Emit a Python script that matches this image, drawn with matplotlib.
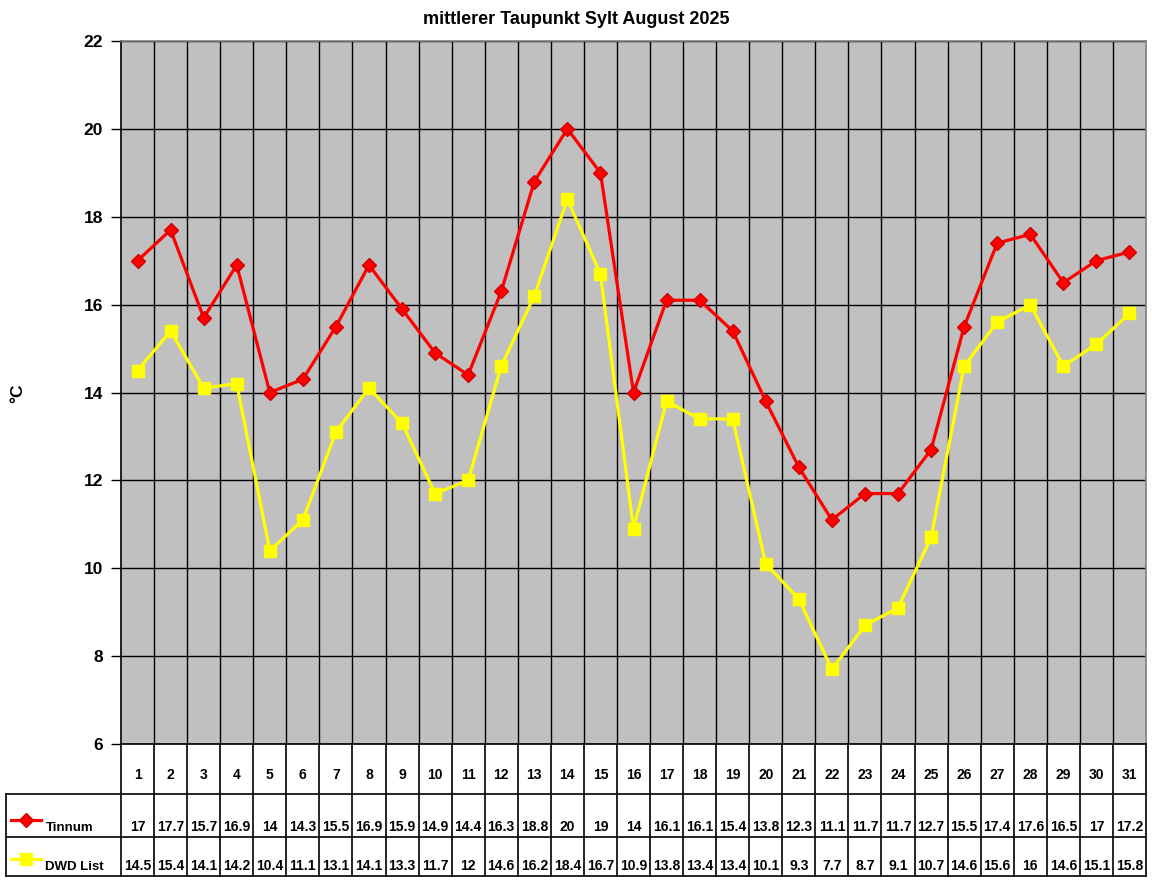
#!/usr/bin/env python3
import matplotlib
matplotlib.use("Agg")
import matplotlib.pyplot as plt
from matplotlib.lines import Line2D
from matplotlib.transforms import blended_transform_factory

days = list(range(1, 32))
tinnum = [17, 17.7, 15.7, 16.9, 14, 14.3, 15.5, 16.9, 15.9, 14.9, 14.4, 16.3, 18.8, 20, 19,
          14, 16.1, 16.1, 15.4, 13.8, 12.3, 11.1, 11.7, 11.7, 12.7, 15.5, 17.4, 17.6, 16.5, 17, 17.2]
dwd_list = [14.5, 15.4, 14.1, 14.2, 10.4, 11.1, 13.1, 14.1, 13.3, 11.7, 12, 14.6, 16.2, 18.4, 16.7,
            10.9, 13.8, 13.4, 13.4, 10.1, 9.3, 7.7, 8.7, 9.1, 10.7, 14.6, 15.6, 16, 14.6, 15.1, 15.8]
series_names = ["Tinnum", "DWD List"]
yticks = [6, 8, 10, 12, 14, 16, 18, 20, 22]

plt.rcParams['font.family'] = ['Liberation Sans', 'DejaVu Sans']
plt.rcParams['font.weight'] = 'bold'

W, H = 1152, 882
fig = plt.figure(figsize=(W / 100, H / 100), dpi=100)

def fx(px):
    return px / W

def fy(py):
    return 1 - py / H

left, right, top, bottom = 121, 1146, 41, 744
ax = fig.add_axes([fx(left), fy(bottom), fx(right - left), fy(top) - fy(bottom)])
ax.set_facecolor("#C0C0C0")
ax.set_xlim(0.5, 31.5)
ax.set_ylim(6, 22)

for y in yticks:
    ax.axhline(y, color="black", lw=1.0, zorder=1)
for k in range(1, 31):
    ax.axvline(k + 0.5, color="black", lw=1.0, zorder=1)

red_style = dict(color="#FF0000", lw=2.3, marker="D", markersize=7.5,
                 markerfacecolor="#FF0000", markeredgecolor="#D00000")
yel_style = dict(color="#FFFF00", lw=2.3, marker="s", markersize=9,
                 markerfacecolor="#FFFF00", markeredgecolor="#FFFF00")
ax.plot(days, tinnum, zorder=3, clip_on=False, **red_style)
ax.plot(days, dwd_list, zorder=3, clip_on=False, **yel_style)

ax.set_yticks(yticks)
ax.set_yticklabels([str(v) for v in yticks], fontsize=12.5, fontweight="bold")
ax.tick_params(axis="y", direction="out", length=7, width=1.0, pad=6)
ax.set_xticks([])
for s in ["top", "right"]:
    ax.spines[s].set_color("#808080")
ax.spines["left"].set_color("black")
ax.spines["bottom"].set_color("black")
for s in ax.spines.values():
    s.set_linewidth(1.2)

fig.text(fx(576), fy(20), "mittlerer Taupunkt Sylt August 2025", ha="center", va="center",
         fontsize=13, fontweight="bold")
fig.text(fx(18), fy(393), "°C", ha="center", va="center", rotation=90,
         fontsize=12.5, fontweight="bold")

# data table below the plot
tr = blended_transform_factory(ax.transData, fig.transFigure)
lk = dict(color="black", lw=1.2, clip_on=False)
for py in [794, 837, 876]:
    fig.add_artist(Line2D([fx(6), fx(right)], [fy(py), fy(py)], **lk))
fig.add_artist(Line2D([fx(6), fx(6)], [fy(794), fy(876)], **lk))
fig.add_artist(Line2D([fx(left), fx(left)], [fy(bottom), fy(876)], **lk))
fig.add_artist(Line2D([fx(right), fx(right)], [fy(bottom), fy(876)], **lk))
for k in range(1, 31):
    fig.add_artist(Line2D([k + 0.5, k + 0.5], [fy(bottom), fy(876)], transform=tr, **lk))

for d, a, b in zip(days, tinnum, dwd_list):
    fig.text(d, fy(775), str(d), transform=tr, ha="center", va="center",
             fontsize=10, fontweight="bold")
    fig.text(d, fy(827), f"{a:g}", transform=tr, ha="center", va="center",
             fontsize=10, fontweight="bold")
    fig.text(d, fy(866), f"{b:g}", transform=tr, ha="center", va="center",
             fontsize=10, fontweight="bold")

# legend keys in the table
fig.add_artist(Line2D([fx(11), fx(41)], [fy(820), fy(820)], color="#FF0000", lw=2.3))
fig.add_artist(Line2D([fx(26)], [fy(820)], color="#FF0000", marker="D", markersize=7.5,
                      markeredgecolor="#D00000"))
fig.add_artist(Line2D([fx(11), fx(41)], [fy(859), fy(859)], color="#FFFF00", lw=2.3))
fig.add_artist(Line2D([fx(26)], [fy(859)], color="#FFFF00", marker="s", markersize=9))
fig.text(fx(46), fy(828), series_names[0], ha="left", va="center", fontsize=9.5, fontweight="bold")
fig.text(fx(45), fy(867), series_names[1], ha="left", va="center", fontsize=9.5, fontweight="bold")

fig.savefig("out.png", dpi=100)
